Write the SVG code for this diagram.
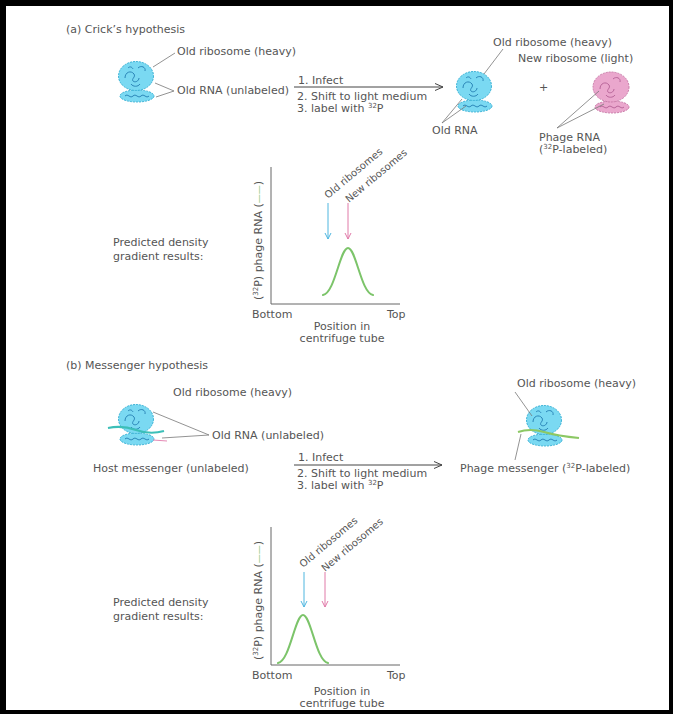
<svg xmlns="http://www.w3.org/2000/svg" width="673" height="714" viewBox="0 0 673 714">
  <style>
    .t { font-family: "DejaVu Sans", "Liberation Sans", sans-serif; font-size: 11px; fill: #555; }
    .rot { font-size: 10px; }
    .sup { font-size: 7px; }
    .lead { stroke: #777; stroke-width: 0.8; fill: none; }
    .proc { stroke: #444; stroke-width: 1; fill: none; }
    .axis { stroke: #666; stroke-width: 1; fill: none; }
    .curve { stroke: #7cc46a; stroke-width: 2; fill: none; stroke-linecap: round; }
    .sub-cyan { fill: #7ad9f2; stroke: #3cb3d6; stroke-width: 1; stroke-dasharray: 2 1; }
    .sub-pink { fill: #eaa7cd; stroke: #c97aa8; stroke-width: 1; stroke-dasharray: 2 1; }
    .rrna-cyan { stroke: #2b86b8; stroke-width: 1; fill: none; }
    .rrna-pink { stroke: #b9669a; stroke-width: 1; fill: none; }
  </style>
  <defs>
    <marker id="head" markerWidth="10" markerHeight="8" refX="8" refY="4" orient="auto" markerUnits="userSpaceOnUse">
      <path d="M0,0.5 L8,4 L0,7.5" fill="none" stroke="#444" stroke-width="1"/>
    </marker>
    <marker id="head-blue" markerWidth="8" markerHeight="8" refX="6" refY="4" orient="auto" markerUnits="userSpaceOnUse">
      <path d="M0,1 L6,4 L0,7" fill="none" stroke="#4fb6df" stroke-width="1"/>
    </marker>
    <marker id="head-pink" markerWidth="8" markerHeight="8" refX="6" refY="4" orient="auto" markerUnits="userSpaceOnUse">
      <path d="M0,1 L6,4 L0,7" fill="none" stroke="#e07aa8" stroke-width="1"/>
    </marker>
    <!-- ribosome: large subunit at origin, small subunit below -->
    <g id="ribo-cyan">
      <ellipse class="sub-cyan" cx="1" cy="20" rx="17" ry="6"/>
      <path class="rrna-cyan" d="M-11,20 c3,-3 5,3 8,0 c3,-3 5,3 8,0 c3,-3 5,3 8,0"/>
      <ellipse class="sub-cyan" cx="0" cy="0" rx="17.5" ry="14.5"/>
      <path class="rrna-cyan" d="M-11,2 c0,-6 6,-8 9,-4 c2,3 -3,5 -1,7 c2,2 6,0 6,-3 M2,-8 c3,-3 8,-1 7,3 M-5,8 c2,3 7,3 9,0 M-8,-8 c2,-2 4,-1 5,1"/>
    </g>
    <g id="ribo-pink">
      <ellipse class="sub-pink" cx="1" cy="20" rx="17" ry="6"/>
      <path class="rrna-pink" d="M-11,20 c3,-3 5,3 8,0 c3,-3 5,3 8,0 c3,-3 5,3 8,0"/>
      <ellipse class="sub-pink" cx="0" cy="0" rx="18" ry="15"/>
      <path class="rrna-pink" d="M-11,2 c0,-6 6,-8 9,-4 c2,3 -3,5 -1,7 c2,2 6,0 6,-3 M2,-8 c3,-3 8,-1 7,3 M-5,8 c2,3 7,3 9,0"/>
    </g>
  </defs>

  <!-- frame -->
  <rect x="0" y="0" width="673" height="714" fill="#000"/>
  <rect x="6" y="6" width="663" height="704" fill="#fff"/>

  <!-- ===== (a) Crick's hypothesis ===== -->
  <g id="heading-a"><text class="t" x="66" y="33">(a) Crick’s hypothesis</text></g>

  <g id="ribosome-a-start">
    <use href="#ribo-cyan" x="136" y="76"/>
    <text class="t" x="177" y="55">Old ribosome (heavy)</text>
    <text class="t" x="177" y="94">Old RNA (unlabeled)</text>
  </g>

  <g id="step-a">
    <text class="t" x="298" y="84">1. Infect</text>
    <text class="t" x="297" y="100">2. Shift to light medium</text>
    <text class="t" x="297" y="112">3. label with <tspan class="sup" dy="-4">32</tspan><tspan dy="4">P</tspan></text>
  </g>

  <g id="ribosome-a-old">
    <use href="#ribo-cyan" x="474" y="86"/>
    <text class="t" x="493" y="46">Old ribosome (heavy)</text>
    <text class="t" x="432" y="134">Old RNA</text>
  </g>

  <g id="plus-a"><text class="t" x="539" y="91">+</text></g>

  <g id="ribosome-a-new">
    <use href="#ribo-pink" x="611" y="87"/>
    <text class="t" x="518" y="62">New ribosome (light)</text>
    <text class="t" x="539" y="141">Phage RNA</text>
    <text class="t" x="539" y="153">(<tspan class="sup" dy="-4">32</tspan><tspan dy="4">P-labeled)</tspan></text>
  </g>

  <!-- gradient plot (a) -->
  <g id="plot-a">
    <text class="t" x="113" y="246">Predicted density</text>
    <text class="t" x="113" y="260">gradient results:</text>
    <path class="axis" d="M271,167 V304 H400"/>
    <text class="t" transform="translate(262,300) rotate(-90)">(<tspan class="sup" dy="-4">32</tspan><tspan dy="4">P) phage RNA (</tspan><tspan fill="#7cc46a" font-size="9">——</tspan>)</text>
    <path class="curve" d="M323,295 C335,293 340,248 348,248 C356,248 361,293 373,295"/>
    <line x1="328" y1="203" x2="328" y2="239" stroke="#4fb6df" stroke-width="1" marker-end="url(#head-blue)"/>
    <line x1="348" y1="203" x2="348" y2="239" stroke="#e07aa8" stroke-width="1" marker-end="url(#head-pink)"/>
    <text class="t rot" transform="translate(328,199) rotate(-40)">Old ribosomes</text>
    <text class="t rot" transform="translate(349,203) rotate(-40)">New ribosomes</text>
    <text class="t" x="252" y="318">Bottom</text>
    <text class="t" x="387" y="318">Top</text>
    <text class="t" x="342" y="330" text-anchor="middle">Position in</text>
    <text class="t" x="342" y="342" text-anchor="middle">centrifuge tube</text>
  </g>

  <!-- ===== (b) Messenger hypothesis ===== -->
  <g id="heading-b"><text class="t" x="66" y="369">(b) Messenger hypothesis</text></g>

  <g id="ribosome-b-start">
    <use href="#ribo-cyan" x="136" y="419"/>
    <path d="M108,428 Q122,425 136,430 T164,431" stroke="#3cbfb8" stroke-width="2" fill="none"/>
    <line x1="153" y1="440" x2="167" y2="441" stroke="#e58ab5" stroke-width="1"/>
    <text class="t" x="173" y="396">Old ribosome (heavy)</text>
    <text class="t" x="212" y="439">Old RNA (unlabeled)</text>
    <text class="t" x="93" y="472">Host messenger (unlabeled)</text>
  </g>

  <g id="step-b">
    <text class="t" x="298" y="461">1. Infect</text>
    <text class="t" x="297" y="477">2. Shift to light medium</text>
    <text class="t" x="297" y="489">3. label with <tspan class="sup" dy="-4">32</tspan><tspan dy="4">P</tspan></text>
  </g>

  <g id="ribosome-b-end">
    <use href="#ribo-cyan" x="544" y="420"/>
    <path d="M518,432 Q530,428 544,432 T579,438" stroke="#8cc864" stroke-width="2" fill="none"/>
    <text class="t" x="517" y="387">Old ribosome (heavy)</text>
    <text class="t" x="460" y="472">Phage messenger (<tspan class="sup" dy="-4">32</tspan><tspan dy="4">P-labeled)</tspan></text>
  </g>

  <!-- gradient plot (b) -->
  <g id="plot-b">
    <text class="t" x="113" y="606">Predicted density</text>
    <text class="t" x="113" y="620">gradient results:</text>
    <path class="axis" d="M271,527 V665 H400"/>
    <text class="t" transform="translate(262,660) rotate(-90)">(<tspan class="sup" dy="-4">32</tspan><tspan dy="4">P) phage RNA (</tspan><tspan fill="#7cc46a" font-size="9">——</tspan>)</text>
    <path class="curve" d="M278,663 C290,661 295,615 303,615 C311,615 316,661 328,663"/>
    <line x1="304" y1="572" x2="304" y2="607" stroke="#4fb6df" stroke-width="1" marker-end="url(#head-blue)"/>
    <line x1="325" y1="572" x2="325" y2="607" stroke="#e07aa8" stroke-width="1" marker-end="url(#head-pink)"/>
    <text class="t rot" transform="translate(303,568) rotate(-40)">Old ribosomes</text>
    <text class="t rot" transform="translate(325,572) rotate(-40)">New ribosomes</text>
    <text class="t" x="252" y="679">Bottom</text>
    <text class="t" x="387" y="679">Top</text>
    <text class="t" x="342" y="695" text-anchor="middle">Position in</text>
    <text class="t" x="342" y="707" text-anchor="middle">centrifuge tube</text>
  </g>

  <!-- connectors: process arrows and leader lines -->
  <g id="connectors">
    <line class="proc" x1="294" y1="87" x2="443" y2="87" marker-end="url(#head)"/>
    <line class="proc" x1="294" y1="465" x2="442" y2="465" marker-end="url(#head)"/>
    <path class="lead" d="M175,53 L153,67"/>
    <path class="lead" d="M155,83 L174,91 L156,97"/>
    <path class="lead" d="M503,49 L484,74"/>
    <path class="lead" d="M462,99 L442,123 L466,106"/>
    <path class="lead" d="M599,91 L557,128 L604,104"/>
    <path class="lead" d="M153,412 L209,435 L162,438"/>
    <path class="lead" d="M515,392 L532,416"/>
    <path class="lead" d="M515,460 L521,434"/>
  </g>
</svg>
